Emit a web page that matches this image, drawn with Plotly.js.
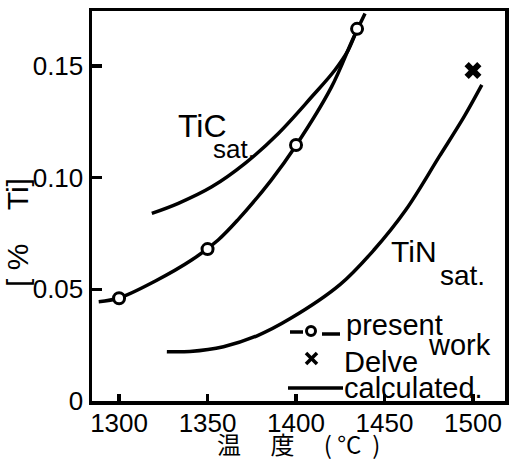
<!DOCTYPE html>
<html>
<head>
<meta charset="utf-8">
<script src="https://cdn.plot.ly/plotly-3.0.1.min.js"></script>
<style>
  html, body { margin: 0; padding: 0; background: #fff; }
  #chart { width: 525px; height: 462px; }
</style>
</head>
<body>
<div id="chart"></div>
<script>
// ---- data ----
// present work: measured points
const presentX = [1300, 1350, 1400, 1434.5];
const presentY = [0.046, 0.068, 0.1146, 0.1666];
// present work: curve drawn through the points
const presentCurveX = [1288.5, 1300, 1320, 1341, 1356, 1367, 1386, 1400, 1420, 1432, 1439];
const presentCurveY = [0.0444, 0.0461, 0.0535, 0.0631, 0.0721, 0.0810, 0.0989, 0.1144, 0.1405, 0.1618, 0.1735];
// Delve
const delveX = [1500];
const delveY = [0.148];
// calculated TiC saturation
const ticX = [1318.5, 1333.5, 1352.4, 1371.2, 1390, 1408.9, 1422, 1429.5, 1434.3];
const ticY = [0.0840, 0.0885, 0.0959, 0.1064, 0.1198, 0.1362, 0.1482, 0.1571, 0.1661];
// calculated TiN saturation
const tinX = [1327, 1340, 1359, 1378, 1397, 1425, 1444, 1462, 1481, 1495, 1505];
const tinY = [0.0221, 0.0222, 0.0243, 0.0292, 0.0370, 0.0522, 0.0676, 0.0855, 0.1095, 0.1273, 0.1415];
// axis ticks
const xTickVals = [1300, 1350, 1400, 1450, 1500];
const yTickVals = [0, 0.05, 0.10, 0.15];
const yTickText = ["0", "0.05", "0.10", "0.15"];

const LAT = "Liberation Sans, Arial, sans-serif";
const CJK = "Noto Sans CJK JP, Liberation Sans, sans-serif";
const LW = 3.5;
const NB = "\u00A0";

const traces = [
  { x: ticX, y: ticY, mode: "lines", line: { color: "#000", width: LW, shape: "spline", smoothing: 1 }, hoverinfo: "skip", showlegend: false },
  { x: tinX, y: tinY, mode: "lines", line: { color: "#000", width: LW, shape: "spline", smoothing: 1 }, hoverinfo: "skip", showlegend: false },
  { x: presentCurveX, y: presentCurveY, mode: "lines", line: { color: "#000", width: LW, shape: "spline", smoothing: 1 }, hoverinfo: "skip", showlegend: false },
  { x: presentX, y: presentY, mode: "markers", marker: { symbol: "circle", size: 11, color: "#fff", line: { color: "#000", width: 3 } }, showlegend: false },
  { x: delveX, y: delveY, mode: "markers", marker: { symbol: "x", size: 15, color: "#000", line: { width: 0 } }, showlegend: false }
];

// plot area: left 92, right 505, top 11, bottom 401 (px)
const px = v => (v - 92) / 413;
const py = v => (401 - v) / 390;

const ann = (text, x, y, size, opts) => Object.assign({
  text: text, x: x, y: y, xref: "x", yref: "y", showarrow: false,
  font: { family: LAT, size: size, color: "#000" }, xanchor: "center", yanchor: "middle"
}, opts || {});

const annotations = [
  ann("TiC", 1346.9, 0.1231, 32),
  ann("sat.", 1365.1, 0.1128, 26),
  ann("TiN", 1466.4, 0.0669, 30),
  ann("sat.", 1493.8, 0.0564, 28),
  // legend texts
  ann("present", px(345), py(325), 29, { xref: "paper", yref: "paper", xanchor: "left", borderpad: 0 }),
  ann("work", px(492), py(345), 29, { xref: "paper", yref: "paper", xanchor: "right", borderpad: 0 }),
  ann("Delve", px(343), py(362), 29, { xref: "paper", yref: "paper", xanchor: "left", borderpad: 0 }),
  ann("calculated.", px(343), py(388), 29, { xref: "paper", yref: "paper", xanchor: "left", borderpad: 0 }),
  // y axis title
  { text: "[" + NB + "%" + NB + NB + NB + NB + "Ti]", xref: "paper", yref: "paper", x: px(17), y: py(233), showarrow: false,
    textangle: -90, font: { family: LAT, size: 30, color: "#000" }, xanchor: "center", yanchor: "middle" },
  // x axis title
  { text: "温\u3000" + NB + "度\u3000" + NB + "(" + NB + "°C" + NB + NB + ")", xref: "paper", yref: "paper", x: px(298), y: py(462), showarrow: false,
    font: { family: CJK, size: 24, color: "#000" }, xanchor: "center", yanchor: "bottom", borderpad: 0 }
];

const shapes = [
  // legend key: -o-
  { type: "line", xref: "paper", yref: "paper", x0: px(290), x1: px(303), y0: py(332), y1: py(332), line: { color: "#000", width: 3.5 } },
  { type: "line", xref: "paper", yref: "paper", x0: px(322), x1: px(340), y0: py(334), y1: py(334), line: { color: "#000", width: 3.5 } },
  { type: "circle", xref: "paper", yref: "paper", xsizemode: "pixel", ysizemode: "pixel",
    xanchor: px(311), yanchor: py(331), x0: -4.5, x1: 4.5, y0: -4.5, y1: 4.5, fillcolor: "#fff", line: { color: "#000", width: 3 } },
  // legend key: x
  { type: "line", xref: "paper", yref: "paper", x0: px(306), x1: px(317), y0: py(353), y1: py(364), line: { color: "#000", width: 3.5 } },
  { type: "line", xref: "paper", yref: "paper", x0: px(306), x1: px(317), y0: py(364), y1: py(353), line: { color: "#000", width: 3.5 } },
  // legend key: calculated line
  { type: "line", xref: "paper", yref: "paper", x0: px(288), x1: px(343), y0: py(388), y1: py(388), line: { color: "#000", width: 3.5 } }
];

const layout = {
  width: 525, height: 462,
  margin: { l: 92, r: 20, t: 11, b: 61, pad: 0 },
  paper_bgcolor: "#fff", plot_bgcolor: "#fff",
  showlegend: false,
  font: { family: LAT, color: "#000" },
  xaxis: {
    range: [1284.7, 1518.1], tickvals: xTickVals, ticks: "inside", ticklen: 7, tickwidth: 3.5, tickcolor: "#000",
    showline: true, mirror: true, linecolor: "#000", linewidth: 3.5, showgrid: false, zeroline: false,
    tickfont: { family: LAT, size: 26, color: "#000" }, ticklabelstandoff: -4
  },
  yaxis: {
    range: [0, 0.1746], tickvals: yTickVals, ticktext: yTickText, ticks: "inside", ticklen: 10, tickwidth: 3.5, tickcolor: "#000",
    showline: true, mirror: true, linecolor: "#000", linewidth: 3.5, showgrid: false, zeroline: false,
    tickfont: { family: LAT, size: 26, color: "#000" }
  },
  annotations: annotations,
  shapes: shapes
};

Plotly.newPlot("chart", traces, layout, { staticPlot: true, displayModeBar: false });
</script>
</body>
</html>
